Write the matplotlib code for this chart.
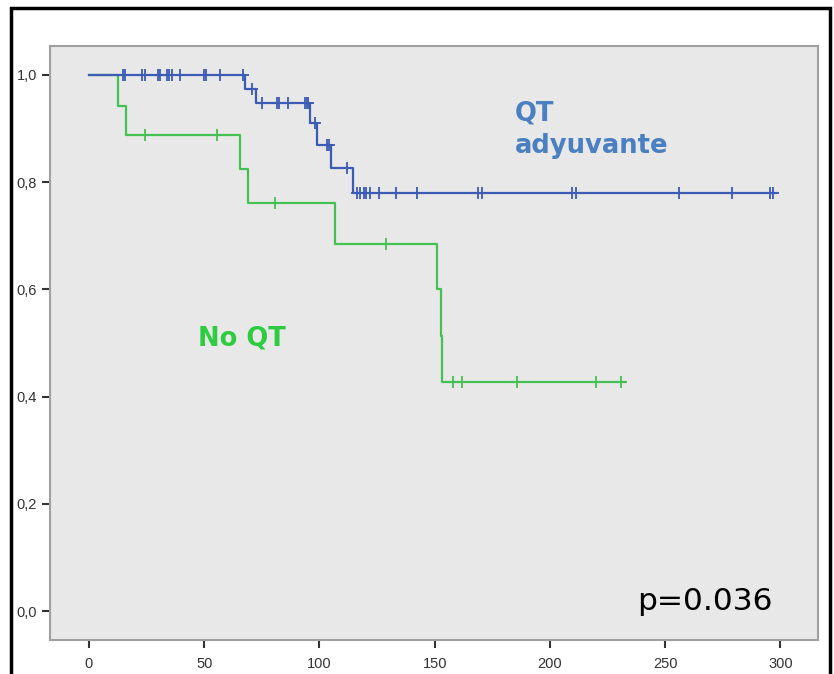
import numpy as np
import matplotlib
matplotlib.use("Agg")
import matplotlib.pyplot as plt
from matplotlib.patches import Rectangle

# --- data ---
qt_times = [0, 67.7, 72.3, 95.9, 98.9, 104.8, 114.5]
qt_surv = [1.0, 0.973, 0.947, 0.910, 0.869, 0.826, 0.780]
qt_end = 298.0
qt_censor = [14.8, 15.6, 23, 24.3, 30, 31, 33.8, 34.9, 36, 39.7, 50, 50.6, 56.8,
             66.8, 70.6, 74.9, 81.4, 82.6, 86.5, 93.7, 94.4, 95.1, 98.0, 103.4,
             104.3, 111.8, 116.1, 117.6, 119.4, 120.4, 121.9, 125.8, 133.1, 142.4,
             168.9, 170.4, 209.4, 211.3, 256, 279.2, 295.4, 296.9]

noqt_times = [0, 12.7, 16, 65.5, 69.1, 106.7, 150.8, 152.6, 153.0]
noqt_surv = [1.0, 0.942, 0.888, 0.824, 0.761, 0.685, 0.600, 0.513, 0.428]
noqt_end = 232.5
noqt_censor = [24.3, 55.7, 80.7, 128.9, 157.8, 161.7, 185.8, 219.9, 230.7]

x_ticks = [0, 50, 100, 150, 200, 250, 300]
y_ticks = [0.0, 0.2, 0.4, 0.6, 0.8, 1.0]
y_labels = ["0,0", "0,2", "0,4", "0,6", "0,8", "1,0"]

plt.rcParams['font.family'] = ['Liberation Sans', 'DejaVu Sans']

fig = plt.figure(figsize=(8.34, 6.74), dpi=100)
fig.patch.set_facecolor('white')

# outer black frame
fig.patches.append(Rectangle((11/834, -0.05), (830-11)/834, 1.05 - 8/674,
                             transform=fig.transFigure, fill=False,
                             edgecolor='black', linewidth=2.5, clip_on=False))

ax = fig.add_axes([50/834, 1-640/674, (818-50)/834, (640-46)/674])
ax.set_facecolor('#e8e8e8')


def draw_km(times, surv, end, censor, color):
    t = list(times) + [end]
    s = list(surv) + [surv[-1]]
    ax.step(t, s, where='post', color=color, linewidth=1.6, zorder=3)
    tt = np.asarray(times)
    ss = np.asarray(surv)
    c = np.asarray(censor)
    idx = np.searchsorted(tt, c, side='right') - 1
    ax.plot(c, ss[idx], linestyle='none', marker='+', markersize=8,
            markeredgewidth=1.3, color=color, zorder=4)


draw_km(noqt_times, noqt_surv, noqt_end, noqt_censor, '#45c052')
draw_km(qt_times, qt_surv, qt_end, qt_censor, '#3b5bb5')

ax.set_xlim(-16.9, 316.3)
ax.set_ylim(-0.054, 1.054)
ax.set_xticks(x_ticks)
ax.set_xticklabels([str(v) for v in x_ticks])
ax.set_yticks(y_ticks)
ax.set_yticklabels(y_labels)
ax.tick_params(axis='both', direction='out', length=6, width=1.5,
               color='#333333', labelsize=10.5, labelcolor='#333333')
ax.tick_params(axis='x', pad=6)
for sp in ax.spines.values():
    sp.set_color('#a0a0a0')
    sp.set_linewidth(1.5)

ax.text(184.8, 0.952, "QT\nadyuvante", color='#4a7fc1', fontsize=18.6,
        fontweight='bold', family='DejaVu Sans', ha='left', va='top',
        linespacing=1.3)
ax.text(47.3, 0.509, "No QT", color='#2ecc40', fontsize=18.5,
        fontweight='bold', family='DejaVu Sans', ha='left', va='center')
ax.text(238.0, 0.017, "p=0.036", color='black', fontsize=22.5,
        family='DejaVu Sans', ha='left', va='center')

fig.savefig('out.png', dpi=100)
